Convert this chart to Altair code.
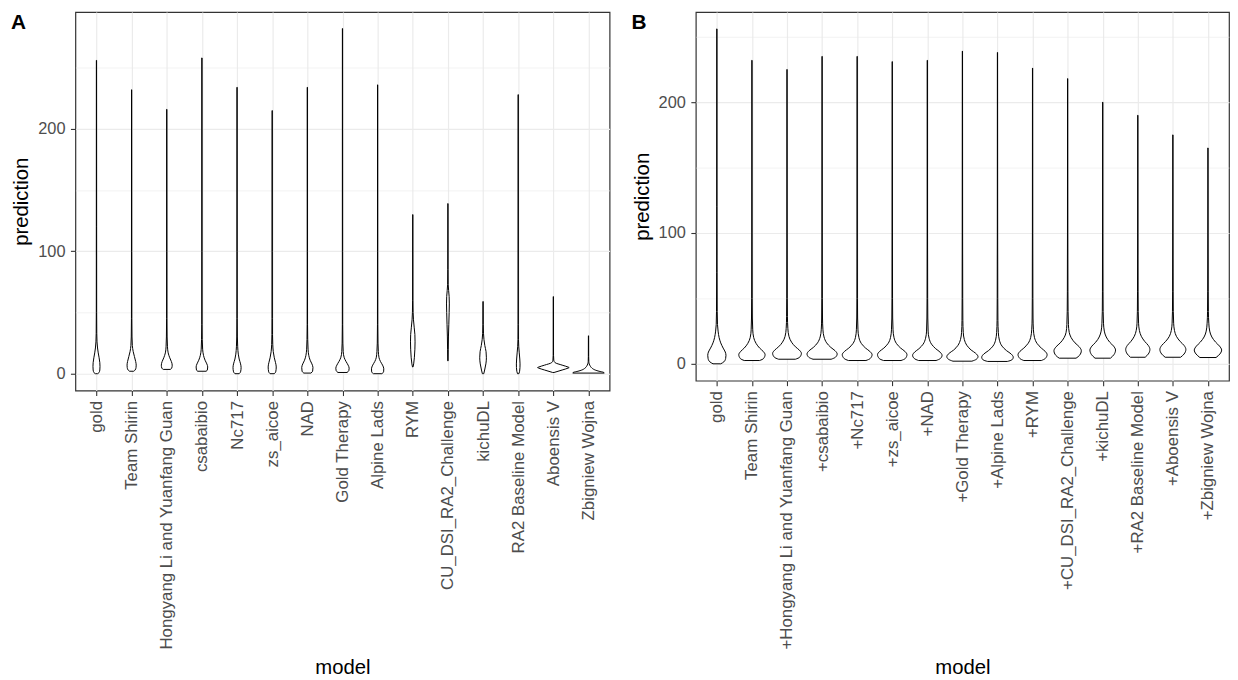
import json
import altair as alt
import pandas as pd

# ---------------- data ----------------
models_a = ["gold", "Team Shirin", "Hongyang Li and Yuanfang Guan", "csabaibio", "Nc717",
            "zs_aicoe", "NAD", "Gold Therapy", "Alpine Lads", "RYM", "CU_DSI_RA2_Challenge",
            "kichuDL", "RA2 Baseline Model", "Aboensis V", "Zbigniew Wojna"]
models_b = ["gold", "Team Shirin", "+Hongyang Li and Yuanfang Guan", "+csabaibio", "+Nc717",
            "+zs_aicoe", "+NAD", "+Gold Therapy", "+Alpine Lads", "+RYM", "+CU_DSI_RA2_Challenge",
            "+kichuDL", "+RA2 Baseline Model", "+Aboensis V", "+Zbigniew Wojna"]

# violin outlines: (prediction value, half-width in category units)
a_gold = [(0, .03), (0.8, .07), (3, .095), (6, .10), (9, .095), (13, .075), (17, .05), (21, .03), (26, .015), (33, .008), (50, .005), (120, .004), (256, .003)]
a_team = [(2, .06), (3, .10), (5, .125), (7, .13), (10, .115), (14, .08), (18, .045), (23, .02), (30, .01), (45, .005), (100, .004), (232, .003)]
a_hong = [(3.5, .10), (4.5, .14), (7, .155), (10, .13), (13, .085), (17, .04), (22, .02), (30, .01), (45, .005), (100, .004), (216, .003)]
a_csab = [(2, .12), (3, .155), (5.5, .165), (8, .14), (11, .09), (15, .045), (20, .02), (28, .01), (40, .005), (100, .004), (258, .003)]
a_nc = [(0, .06), (1.5, .10), (5, .115), (8, .10), (12, .06), (16, .035), (22, .018), (30, .009), (45, .005), (100, .004), (234, .003)]
a_zs = [(0, .06), (1.5, .10), (5.5, .115), (9, .095), (13, .06), (18, .03), (24, .015), (32, .008), (45, .005), (100, .004), (215, .003)]
a_nad = [(0.5, .10), (2, .15), (5, .16), (8, .13), (11, .08), (15, .04), (20, .02), (28, .01), (40, .005), (100, .004), (234, .003)]
a_gt = [(1, .13), (2.5, .18), (4.5, .19), (7, .16), (10, .10), (13, .05), (18, .02), (25, .01), (40, .005), (100, .004), (282, .003)]
a_alp = [(0, .12), (1.5, .17), (4, .175), (7, .14), (10, .08), (13, .04), (18, .02), (25, .01), (40, .005), (100, .004), (236, .003)]
a_rym = [(5.5, .008), (8, .025), (13, .045), (20, .06), (26, .065), (32, .06), (38, .04), (44, .02), (50, .01), (60, .005), (130, .003)]
a_cu = [(10.5, .006), (20, .01), (30, .015), (40, .025), (50, .035), (57, .04), (63, .035), (68, .02), (73, .008), (85, .004), (139, .003)]
a_kichu = [(0, .02), (3, .045), (8, .08), (13, .095), (18, .085), (23, .05), (28, .025), (33, .012), (40, .006), (59, .003)]
a_ra2 = [(0, .02), (2, .04), (5, .05), (8, .052), (12, .045), (17, .03), (22, .015), (28, .007), (40, .004), (228, .003)]
a_abo = [(1, .02), (3, .25), (4.6, .42), (5, .45), (5.4, .42), (7, .25), (9, .05), (11, .012), (15, .005), (63, .003)]
a_zbig = [(0.5, .45), (1.2, .42), (2, .30), (3, .19), (4.5, .10), (6, .055), (8, .02), (10, .008), (14, .004), (31, .003)]

b_gold = [(0, .11), (1.5, .20), (4, .25), (6.5, .26), (9, .24), (12, .18), (16, .11), (20, .065), (25, .035), (30, .018), (40, .01), (70, .006), (120, .004), (256, .003)]
b_team = [(2.5, .22), (4, .33), (7, .375), (9.5, .32), (12, .22), (15.5, .12), (20, .05), (26, .022), (35, .012), (50, .008), (100, .005), (232, .003)]
b_hong = [(3.5, .24), (5, .36), (8, .41), (10.5, .35), (13, .24), (16.5, .13), (21, .055), (27, .024), (36, .012), (50, .008), (100, .005), (225, .003)]
b_csab = [(3.5, .26), (5, .38), (7.5, .43), (10, .37), (12.5, .25), (16, .13), (20.5, .055), (26, .024), (35, .012), (50, .008), (100, .005), (235, .003)]
b_nc = [(2.5, .25), (4, .37), (7, .425), (9.5, .36), (12, .24), (15.5, .12), (20, .05), (26, .022), (35, .012), (50, .008), (100, .005), (235, .003)]
b_zs = [(2.5, .25), (4, .37), (7, .42), (9.5, .36), (12, .24), (15.5, .12), (20, .05), (26, .022), (35, .012), (50, .008), (100, .005), (231, .003)]
b_nad = [(2.5, .25), (4, .37), (6.5, .42), (9, .36), (11.5, .24), (15, .12), (19.5, .05), (25, .022), (35, .012), (50, .008), (100, .005), (232, .003)]
b_gt = [(2, .27), (3.5, .40), (5.5, .445), (8, .38), (10.5, .25), (14, .13), (18.5, .055), (24, .024), (33, .012), (50, .008), (100, .005), (239, .003)]
b_alp = [(1.8, .28), (3, .41), (5, .45), (7.5, .39), (10, .26), (13.5, .13), (18, .055), (24, .024), (33, .012), (50, .008), (100, .005), (238, .003)]
b_rym = [(2.5, .25), (4, .36), (7, .415), (9.5, .36), (12, .25), (15.5, .13), (20, .055), (26, .024), (35, .012), (50, .008), (100, .005), (226, .003)]
b_cu = [(4.3, .24), (6.5, .34), (10, .39), (13, .33), (16, .21), (20, .10), (24, .045), (30, .022), (40, .012), (55, .008), (100, .005), (218, .003)]
b_kichu = [(4.3, .22), (7, .32), (10.5, .365), (13.5, .31), (16.5, .20), (20.5, .10), (25, .045), (31, .022), (40, .012), (55, .008), (100, .005), (200, .003)]
b_ra2 = [(5, .21), (7.5, .30), (11, .345), (14, .30), (17, .20), (21, .10), (25.5, .045), (31, .022), (40, .012), (55, .008), (100, .005), (190, .003)]
b_abo = [(5, .22), (7.5, .32), (11, .37), (14, .32), (17, .21), (21, .10), (25.5, .045), (31, .022), (40, .012), (55, .008), (100, .005), (175, .003)]
b_zbig = [(4.8, .23), (7.5, .34), (10.5, .39), (13.5, .33), (16.5, .22), (20.5, .11), (25, .05), (31, .024), (40, .012), (55, .008), (100, .005), (165, .003)]

profiles_a = [a_gold, a_team, a_hong, a_csab, a_nc, a_zs, a_nad, a_gt, a_alp, a_rym, a_cu, a_kichu, a_ra2, a_abo, a_zbig]
profiles_b = [b_gold, b_team, b_hong, b_csab, b_nc, b_zs, b_nad, b_gt, b_alp, b_rym, b_cu, b_kichu, b_ra2, b_abo, b_zbig]

y_ticks = [0, 50, 100, 150, 200, 250]
ydom_a = [-13.8, 295.5]
ydom_b = [-12.9, 268.9]

FONT = "Liberation Sans"


def build_df(models, profiles):
    rows = []
    for i, (m, prof) in enumerate(zip(models, profiles), start=1):
        for v, w in prof:
            rows.append({"model": m, "idx": i, "value": v, "hw": w})
    return pd.DataFrame(rows)


def panel(models, profiles, ydom, letter, width, height, title_y):
    df = build_df(models, profiles)
    label_expr = json.dumps(models) + "[datum.value - 1]"
    xaxis = alt.Axis(values=list(range(1, len(models) + 1)), labelExpr=label_expr,
                     labelAngle=-90, labelFontSize=17, labelColor="#4D4D4D", labelPadding=5,
                     labelOverlap=False, labelFlush=False, labelBound=False, labelLimit=0,
                     tickSize=5, tickColor="#333333", tickWidth=1.1,
                     grid=True, gridColor="#EBEBEB", gridWidth=1.2, domain=False,
                     titleFontSize=20.5, titleColor="black", titleFontWeight="normal",
                     titleY=title_y, titleBaseline="alphabetic")
    yaxis = alt.Axis(values=y_ticks,
                     labelExpr="datum.value % 100 == 0 ? datum.label : ''",
                     labelFontSize=16.5, labelColor="#4D4D4D", labelPadding=5.5,
                     tickSize=5, tickColor="#333333", tickWidth=1.1,
                     tickOpacity={"condition": {"test": "datum.value % 100 != 0", "value": 0}, "value": 1},
                     grid=True, gridColor="#EBEBEB",
                     gridWidth={"condition": {"test": "datum.value % 100 != 0", "value": 0.6}, "value": 1.2},
                     domain=False, titleFontSize=20.5, titleColor="black",
                     titleFontWeight="normal", titlePadding=6)
    violins = alt.Chart(df).transform_calculate(
        lo="datum.idx - datum.hw", hi="datum.idx + datum.hw"
    ).mark_area(orient="horizontal", interpolate="monotone", fill="white",
                stroke="black", strokeWidth=1).encode(
        y=alt.Y("value:Q", scale=alt.Scale(domain=ydom, nice=False, zero=False),
                axis=yaxis, title="prediction"),
        x=alt.X("lo:Q", scale=alt.Scale(domain=[0.4, len(models) + 0.6], nice=False, zero=False),
                axis=xaxis, title="model"),
        x2="hi:Q",
        detail="model:N",
    )
    tag = alt.Chart(pd.DataFrame({"t": [letter]})).mark_text(
        align="left", baseline="alphabetic", fontSize=21, fontWeight="bold",
        font=FONT, color="black"
    ).encode(text="t:N", x=alt.value(-65), y=alt.value(17))
    return alt.layer(violins, tag).properties(width=width, height=height)


pa = panel(models_a, profiles_a, ydom_a, "A", 539, 382, 285)
pb = panel(models_b, profiles_b, ydom_b, "B", 538, 372, 295)

chart = alt.hconcat(pa, pb, spacing=20).properties(
    padding={"left": 2, "top": 0, "right": 0, "bottom": 0}
).configure(font=FONT, background="white").configure_view(
    stroke="#333333", strokeWidth=1.2
)

chart.save("out.html", embed_options={"renderer": "svg", "actions": False})
